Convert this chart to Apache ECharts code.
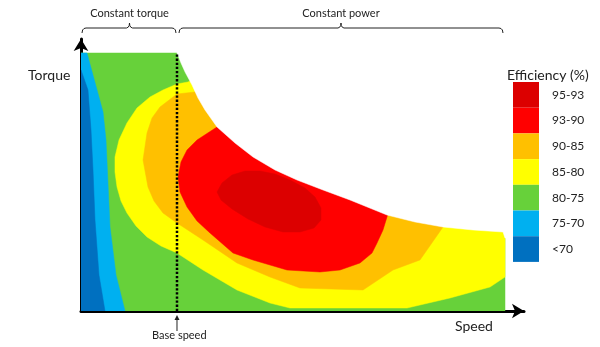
<!DOCTYPE html>
<html>
<head>
<meta charset="utf-8">
<script src="https://cdn.jsdelivr.net/npm/echarts@6/dist/echarts.min.js"></script>
<style>
html,body{margin:0;padding:0;background:#fff;}
#chart{width:600px;height:347px;}
</style>
</head>
<body>
<div id="chart"></div>
<script>
// ---- axis ranges (normalised %) ----
var speedMax = 100;
var torqueMax = 100;
var baseSpeed = 21.67;
var maxSpeedData = 95.71;
var maxTorqueData = 94.85;

// ---- legend / categories ----
var legendLabels = ['95-93', '93-90', '90-85', '85-80', '80-75', '75-70', '<70'];
var legendColors = ['#dc0000', '#ff0000', '#ffc000', '#ffff00', '#67d13a', '#00b0f0', '#0070c0'];

// ---- operating envelope (region 80-75 fills the whole rectangle, outside is masked) ----
var region80_75 = [[0, 0], [0, 94.85], [95.71, 94.85], [95.71, 0]];

// constant-power envelope curve, then the outside area
var outsideEnvelope = [
  [21.67, 94.85], [22.57, 91.18], [23.48, 87.87], [25.06, 83.09], [26.41, 78.31],
  [27.99, 73.90], [30.70, 67.65], [34.76, 61.76], [38.83, 56.62], [43.79, 51.84],
  [48.76, 48.16], [54.63, 44.49], [60.72, 40.81], [69.07, 35.29], [75.40, 32.72],
  [81.72, 30.88], [88.49, 29.78], [95.26, 29.04], [95.71, 26.84],
  [96.5, 26.84], [96.5, 97], [21.67, 97]
];

var region75_70 = [
  [0, 94.85], [1.35, 94.85], [4.97, 73.16], [5.64, 62.87], [6.55, 30.88],
  [7.90, 13.24], [9.93, 0], [0, 0]
];

var regionLt70 = [
  [0, 88.6], [1.58, 81.25], [2.26, 66.54], [2.71, 51.84], [3.16, 33.46],
  [4.06, 13.24], [5.42, 0], [0, 0]
];

var region85_80 = [
  [21.67, 83.46], [18.51, 81.25], [15.58, 78.68], [12.64, 74.63], [10.38, 69.12],
  [8.58, 62.87], [7.67, 56.62], [7.67, 51.10], [8.13, 45.59], [9.03, 40.44],
  [10.38, 36.03], [12.42, 31.25], [14.90, 27.21], [18.06, 23.90], [21.67, 21.32],
  [27.54, 15.07], [35.21, 7.72], [42.66, 2.94], [47.18, 1.10], [73.59, 1.10],
  [83.30, 4.78], [92.33, 8.82], [95.71, 12.50], [95.71, 40.81],
  [72.01, 59.19], [49.44, 70.22], [26.86, 88.60], [25.06, 84.93], [24.15, 84.19]
];

var region90_85 = [
  [21.67, 79.78], [17.83, 75.0], [16.03, 70.96], [14.90, 65.44], [14.0, 55.51],
  [15.12, 45.59], [16.48, 40.44], [18.51, 36.03], [21.67, 32.35], [27.54, 26.10],
  [35.21, 17.65], [42.66, 12.50], [49.44, 8.46], [63.66, 7.72], [70.43, 15.07],
  [76.52, 18.75], [81.72, 30.88], [83.75, 36.40], [49.44, 62.87], [27.99, 81.99],
  [25.73, 80.51]
];

var region93_90 = [
  [30.70, 67.65], [26.19, 62.87], [23.93, 59.19], [22.57, 54.78], [21.90, 49.26],
  [22.35, 43.75], [23.93, 38.24], [26.19, 33.09], [29.12, 28.68], [34.31, 21.32],
  [38.83, 18.75], [46.50, 15.07], [53.95, 14.34], [58.47, 15.07], [62.98, 17.65],
  [65.69, 21.32], [66.82, 25.0], [68.17, 29.78], [69.07, 34.56], [70.20, 40.81],
  [49.44, 55.51], [32.51, 70.96]
];

var region95_93 = [
  [30.70, 43.75], [31.83, 47.06], [34.09, 50.0], [37.02, 51.47], [40.41, 51.47],
  [43.79, 50.37], [47.18, 48.16], [50.56, 45.22], [52.82, 41.91], [54.18, 37.87],
  [54.18, 33.46], [52.60, 30.51], [49.44, 29.04], [45.60, 29.04], [41.53, 30.88],
  [37.70, 33.82], [34.09, 37.50], [31.60, 40.81]
];

var baseSpeedLine = [[baseSpeed, 0], [baseSpeed, maxTorqueData]];

var FONT = 'Lato, "Open Sans", sans-serif';

function regionSeries(name, pts, color) {
  return {
    type: 'custom',
    name: name,
    coordinateSystem: 'cartesian2d',
    data: pts,
    encode: { x: 0, y: 1 },
    itemStyle: { color: color },
    silent: true,
    clip: true,
    animation: false,
    renderItem: function (params, api) {
      if (params.dataIndex !== 0) return null;
      return {
        type: 'polygon',
        shape: { points: pts.map(function (p) { return api.coord(p); }) },
        style: { fill: color, stroke: color, lineWidth: 0.5 }
      };
    }
  };
}

var chart = echarts.init(document.getElementById('chart'), null, { renderer: 'canvas' });

var hiddenAxis = {
  axisTick: { show: false },
  axisLabel: { show: false },
  splitLine: { show: false }
};

var option = {
  animation: false,
  backgroundColor: '#fff',
  grid: { left: 81, right: 76, top: 39, bottom: 36 },
  xAxis: Object.assign({
    type: 'value', min: 0, max: speedMax,
    axisLine: { show: true, onZero: false, symbol: ['none', 'arrow'], symbolSize: [11, 12],
      lineStyle: { color: '#000', width: 3 } }
  }, hiddenAxis),
  yAxis: Object.assign({
    type: 'value', min: 0, max: torqueMax,
    axisLine: { show: true, onZero: false, symbol: ['none', 'arrow'], symbolSize: [11, 12],
      lineStyle: { color: '#000', width: 3 } }
  }, hiddenAxis),
  legend: {
    data: legendLabels,
    orient: 'vertical',
    left: 513,
    top: 82,
    padding: 0,
    itemWidth: 26,
    itemHeight: 25.7,
    itemGap: 0,
    icon: 'rect',
    selectedMode: false,
    textStyle: { fontFamily: FONT, fontSize: 12, color: '#222', padding: [0, 0, 0, 8] }
  },
  series: [
    regionSeries(legendLabels[4], region80_75, legendColors[4]),
    regionSeries(legendLabels[5], region75_70, legendColors[5]),
    regionSeries(legendLabels[6], regionLt70, legendColors[6]),
    regionSeries(legendLabels[3], region85_80, legendColors[3]),
    regionSeries(legendLabels[2], region90_85, legendColors[2]),
    regionSeries(legendLabels[1], region93_90, legendColors[1]),
    regionSeries(legendLabels[0], region95_93, legendColors[0]),
    regionSeries('outside', outsideEnvelope, '#ffffff'),
    {
      type: 'custom',
      name: 'base',
      coordinateSystem: 'cartesian2d',
      data: baseSpeedLine,
      encode: { x: 0, y: 1 },
      silent: true,
      clip: false,
      z: 5,
      renderItem: function (params, api) {
        if (params.dataIndex !== 0) return null;
        var a = api.coord(baseSpeedLine[0]);
        var b = api.coord(baseSpeedLine[1]);
        return {
          type: 'line',
          shape: { x1: a[0], y1: a[1], x2: b[0], y2: b[1] },
          style: { stroke: '#000', lineWidth: 2.5, lineDash: [2.3, 1.8] }
        };
      }
    }
  ]
};

chart.setOption(option);

// annotations placed from the axis scale
var p0 = chart.convertToPixel({ gridIndex: 0 }, [0, 0]);
var pb = chart.convertToPixel({ gridIndex: 0 }, [baseSpeed, 0]);
var pm = chart.convertToPixel({ gridIndex: 0 }, [maxSpeedData, 0]);

function brace(x0, x1, xm, y) {
  return [
    [x0, y + 5], [x0 + 0.6, y + 2], [x0 + 2, y + 0.5], [x0 + 4, y],
    [xm - 3, y], [xm - 1.3, y - 0.8], [xm - 0.3, y - 2.5], [xm, y - 5],
    [xm + 0.3, y - 2.5], [xm + 1.3, y - 0.8], [xm + 3, y],
    [x1 - 4, y], [x1 - 2, y + 0.5], [x1 - 0.6, y + 2], [x1, y + 5]
  ];
}

var xA = p0[0] + 1, xB = pb[0], xC = pm[0] - 2;
var midT = (xA + xB) / 2, midP = (xB + 2 + xC) / 2;

var G = [
  { type: 'polyline', shape: { points: brace(xA, xB - 1, midT, 28) }, style: { fill: null, stroke: '#222', lineWidth: 1 } },
  { type: 'polyline', shape: { points: brace(xB + 2, xC, midP, 28) }, style: { fill: null, stroke: '#222', lineWidth: 1 } },
  { type: 'text', x: midT, y: 13, style: { text: 'Constant torque', font: '11px ' + FONT, fill: '#222', align: 'center', verticalAlign: 'middle' } },
  { type: 'text', x: midP, y: 13, style: { text: 'Constant power', font: '11px ' + FONT, fill: '#222', align: 'center', verticalAlign: 'middle' } },
  { type: 'text', x: 28, y: 75, style: { text: 'Torque', font: '14px ' + FONT, fill: '#222', align: 'left', verticalAlign: 'middle' } },
  { type: 'text', x: 455, y: 326, style: { text: 'Speed', font: '14px ' + FONT, fill: '#222', align: 'left', verticalAlign: 'middle' } },
  { type: 'text', x: 507, y: 75, style: { text: 'Efficiency (%)', font: '14px ' + FONT, fill: '#222', align: 'left', verticalAlign: 'middle' } },
  { type: 'line', shape: { x1: pb[0], y1: 331, x2: pb[0], y2: 318 }, style: { stroke: '#222', lineWidth: 1 } },
  { type: 'polygon', shape: { points: [[pb[0], 315], [pb[0] - 2.5, 320], [pb[0] + 2.5, 320]] }, style: { fill: '#222' } },
  { type: 'text', x: pb[0] - 25, y: 335, style: { text: 'Base speed', font: '11px ' + FONT, fill: '#222', align: 'left', verticalAlign: 'middle' } }
];
G.forEach(function (g) { g.z = 100; });

chart.setOption({ graphic: G });
</script>
</body>
</html>
